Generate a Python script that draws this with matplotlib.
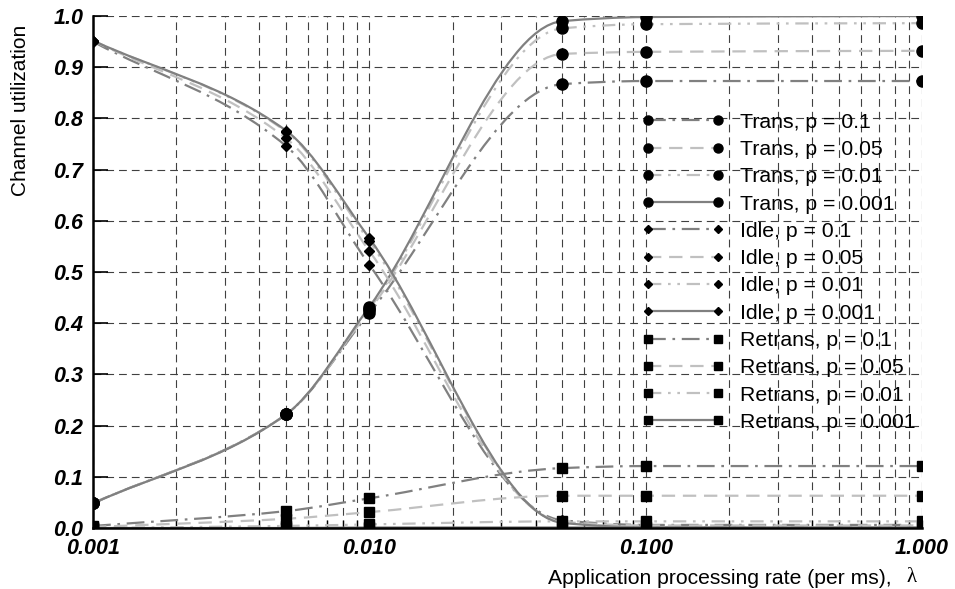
import numpy as np
import matplotlib
matplotlib.use("Agg")
import matplotlib.pyplot as plt
from matplotlib.path import Path
from matplotlib.patches import PathPatch
from matplotlib.lines import Line2D
from matplotlib.ticker import FixedLocator, FormatStrFormatter

plt.rcParams['font.family'] = ['Liberation Sans', 'DejaVu Sans']

# x values (application processing rate, per ms)
rate = [0.001, 0.005, 0.01, 0.05, 0.1, 1.0]
p_values = ['0.1', '0.05', '0.01', '0.001']

# rows follow p_values
trans = [
    [0.048, 0.222, 0.420, 0.867, 0.873, 0.873],
    [0.048, 0.222, 0.425, 0.926, 0.930, 0.932],
    [0.048, 0.222, 0.428, 0.976, 0.984, 0.986],
    [0.048, 0.222, 0.432, 0.990, 0.998, 1.000],
]
idle = [
    [0.950, 0.746, 0.514, 0.015, 0.006, 0.006],
    [0.952, 0.761, 0.541, 0.012, 0.005, 0.005],
    [0.952, 0.774, 0.560, 0.011, 0.002, 0.001],
    [0.952, 0.776, 0.566, 0.010, 0.001, 0.000],
]
retrans = [
    [0.004, 0.033, 0.058, 0.117, 0.121, 0.121],
    [0.002, 0.018, 0.031, 0.063, 0.063, 0.063],
    [0.000, 0.004, 0.007, 0.013, 0.013, 0.013],
    [0.000, 0.000, 0.001, 0.001, 0.001, 0.001],
]

# line look per p value
line_colors = ['#808080', '#c0c0c0', '#c0c0c0', '#808080']
line_styles = [(0, (8, 3, 1.2, 3)), (0, (6, 3.5)), (0, (6, 3, 1.2, 3, 1.2, 3)), '-']

fig = plt.figure(figsize=(9.55, 5.89), dpi=100)
ax = fig.add_axes([93 / 955, 1 - 528 / 589, 829 / 955, 512 / 589])
ax.set_xscale('log')
ax.set_xlim(0.001, 1.0)
ax.set_ylim(0.0, 1.0)

ax.xaxis.set_major_locator(FixedLocator([0.001, 0.01, 0.1, 1.0]))
ax.xaxis.set_major_formatter(FormatStrFormatter('%.3f'))
minors = [m * 10.0 ** e for e in range(-3, 0) for m in range(2, 10)]
ax.xaxis.set_minor_locator(FixedLocator(minors))
ax.xaxis.set_minor_formatter(plt.NullFormatter())
ax.set_yticks(np.arange(0, 1.01, 0.1))
ax.yaxis.set_major_formatter(FormatStrFormatter('%.1f'))

ax.grid(True, which='both', axis='x', color='#404040', linestyle=(0, (7, 4.5)), linewidth=0.8)
ax.grid(True, which='major', axis='y', color='#404040', linestyle=(0, (7, 4.5)), linewidth=0.8)
ax.set_axisbelow(True)

for side in ['top', 'right']:
    ax.spines[side].set_visible(False)
for side in ['left', 'bottom']:
    ax.spines[side].set_linewidth(1.8)
    ax.spines[side].set_zorder(5)

ax.tick_params(axis='y', which='major', direction='in', length=11, width=1.2, pad=7)
ax.tick_params(axis='x', which='major', direction='in', length=6, width=1.0, pad=7)
ax.tick_params(axis='x', which='minor', direction='in', length=6, width=1.0)
for lab in ax.get_xticklabels() + ax.get_yticklabels():
    lab.set_fontsize(15.5)
    lab.set_fontweight('bold')
    lab.set_fontstyle('italic')


def smooth_curve(ax, xs, ys, **kw):
    # monotone cubic through the points (log x), drawn as bezier segments
    lx = np.log10(np.asarray(xs, dtype=float))
    y = np.asarray(ys, dtype=float)
    n = len(lx)
    h = np.diff(lx)
    d = np.diff(y) / h
    m = np.zeros(n)
    m[0], m[-1] = d[0], d[-1]
    for k in range(1, n - 1):
        if d[k - 1] * d[k] > 0:
            w1 = 2 * h[k] + h[k - 1]
            w2 = h[k] + 2 * h[k - 1]
            m[k] = (w1 + w2) / (w1 / d[k - 1] + w2 / d[k])
    verts = [(lx[0], y[0])]
    codes = [Path.MOVETO]
    for i in range(n - 1):
        verts += [(lx[i] + h[i] / 3, y[i] + m[i] * h[i] / 3),
                  (lx[i + 1] - h[i] / 3, y[i + 1] - m[i + 1] * h[i] / 3),
                  (lx[i + 1], y[i + 1])]
        codes += [Path.CURVE4] * 3
    verts = np.array(verts)
    verts[:, 0] = 10.0 ** verts[:, 0]
    patch = PathPatch(Path(verts, codes), fill=False, **kw)
    ax.add_patch(patch)
    return patch


groups = [('Trans', trans, 'o', 8.0, 6.5),
          ('Idle', idle, 'D', 5.5, 4.0),
          ('Retrans', retrans, 's', 7.0, 6.0)]

handles = []
for name, data, mk, ms, lms in groups:
    for j, p in enumerate(p_values):
        smooth_curve(ax, rate, data[j], edgecolor=line_colors[j], linestyle=line_styles[j],
                     linewidth=1.6, zorder=3)
        ax.plot(rate, data[j], linestyle='none', marker=mk, markersize=ms,
                color='black', zorder=4)
        handles.append(Line2D([], [], color=line_colors[j], linestyle=line_styles[j],
                              linewidth=1.6, marker=mk, markersize=lms,
                              markerfacecolor='black', markeredgecolor='black',
                              label=f'{name}, p = {p}'))

leg = ax.legend(handles=handles, loc='upper left', bbox_to_anchor=(0.662, 0.811),
                frameon=False, fontsize=15.3, numpoints=2, handlelength=3.88,
                handletextpad=0.72, labelspacing=0.39, borderpad=0, borderaxespad=0)
leg.set_zorder(6)

fig.text(21 / 955, 1 - 110 / 589, 'Channel utilization', rotation=90,
         ha='center', va='center', fontsize=15)
fig.text(892 / 955, 1 - 578 / 589, 'Application processing rate (per ms),', ha='right',
         va='center', fontsize=15.2)
fig.text(912 / 955, 1 - 577 / 589, 'λ', ha='center', va='center', fontsize=15,
         family=['Liberation Serif', 'DejaVu Serif'])

fig.savefig('out.png', dpi=100)
